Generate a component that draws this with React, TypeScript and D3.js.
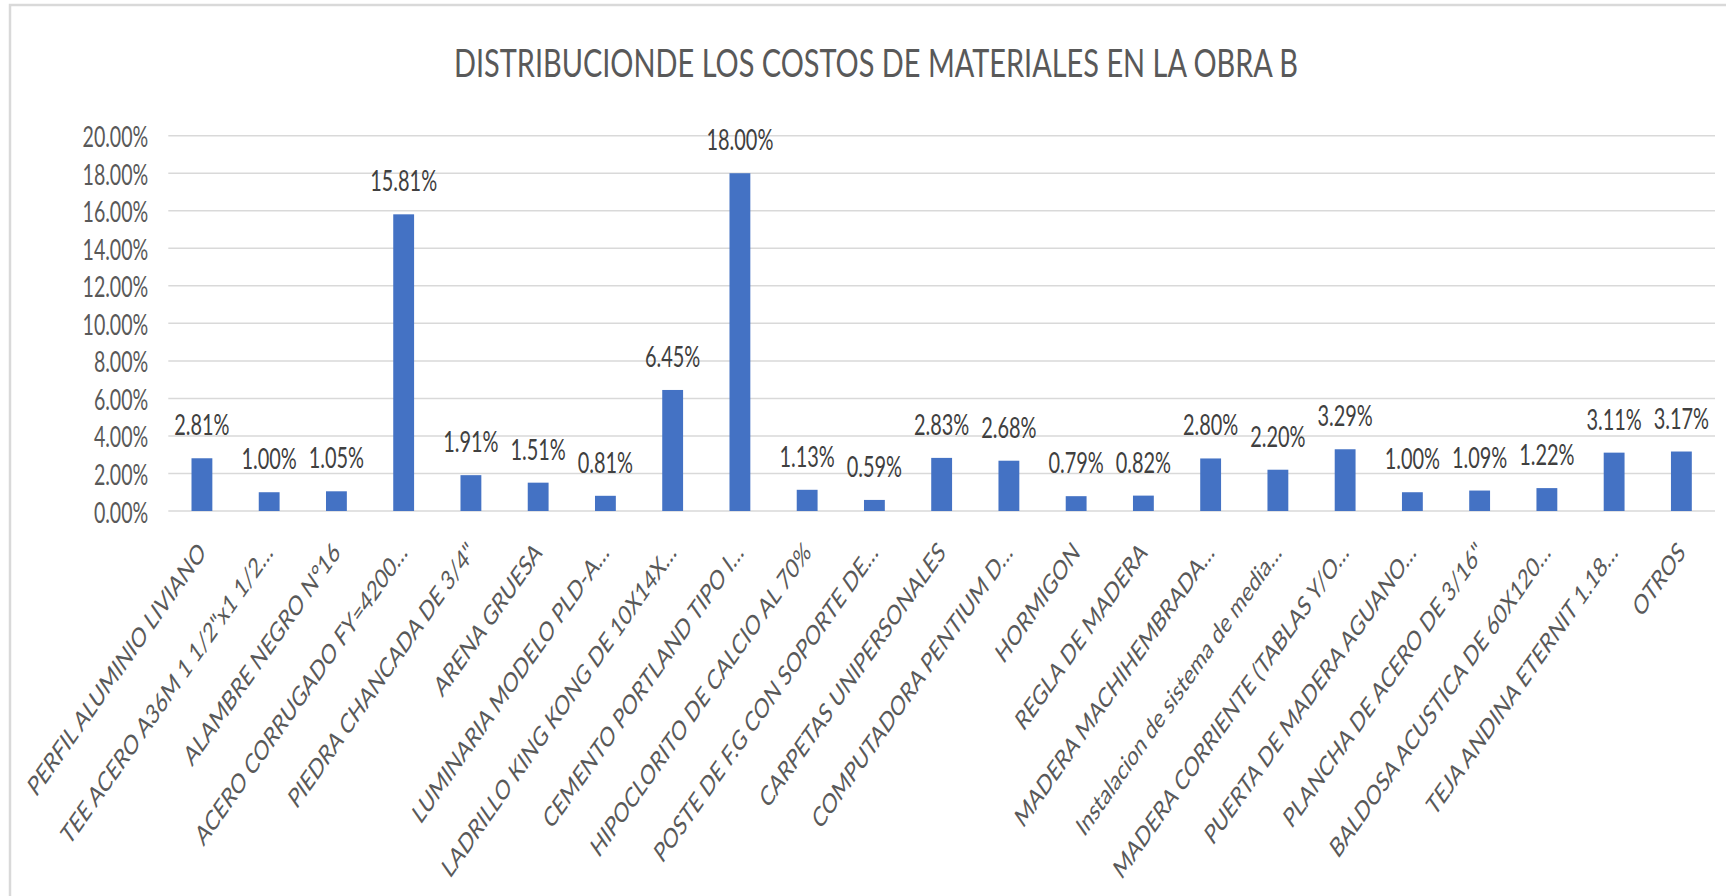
import React from 'react';
import * as d3 from 'd3';

// Material names, as they appear (already truncated) on the category axis
const categories = [
  'PERFIL ALUMINIO LIVIANO',
  'TEE ACERO A36M 1 1/2"x1 1/2…',
  'ALAMBRE NEGRO N°16',
  'ACERO CORRUGADO FY=4200…',
  'PIEDRA CHANCADA DE 3/4"',
  'ARENA GRUESA',
  'LUMINARIA MODELO PLD-A…',
  'LADRILLO KING KONG DE 10X14X…',
  'CEMENTO PORTLAND TIPO I…',
  'HIPOCLORITO DE CALCIO AL 70%',
  'POSTE DE F.G CON SOPORTE DE…',
  'CARPETAS UNIPERSONALES',
  'COMPUTADORA PENTIUM D…',
  'HORMIGON',
  'REGLA DE MADERA',
  'MADERA MACHIHEMBRADA…',
  'Instalacion de sistema de media…',
  'MADERA CORRIENTE (TABLAS Y/O…',
  'PUERTA DE MADERA AGUANO…',
  'PLANCHA DE ACERO DE 3/16"',
  'BALDOSA ACUSTICA DE 60X120…',
  'TEJA ANDINA ETERNIT 1.18…',
  'OTROS',
];

// share of total material cost, in percent
const shares = [
  2.81, 1.0, 1.05, 15.81, 1.91, 1.51, 0.81, 6.45, 18.0, 1.13, 0.59, 2.83,
  2.68, 0.79, 0.82, 2.8, 2.2, 3.29, 1.0, 1.09, 1.22, 3.11, 3.17,
];

const yTicks = [0, 2, 4, 6, 8, 10, 12, 14, 16, 18, 20];

const title = 'DISTRIBUCIONDE LOS COSTOS DE MATERIALES EN LA OBRA B';

const width = 1726;
const height = 896;
const FONT = "Lato, 'Open Sans', sans-serif";
const SQUEEZE = 0.7; // the original picture is squeezed horizontally

export default function App() {
  const x = d3
    .scaleBand<string>()
    .domain(categories)
    .range([168.3, 1715])
    .paddingInner(0.69)
    .paddingOuter(0.345);

  const y = d3.scaleLinear().domain([0, 20]).range([511, 135.7]);
  const fmt = (v: number) => v.toFixed(2) + '%';

  return (
    <svg
      width={width}
      height={height}
      style={{ position: 'absolute', left: 0, top: 0, background: '#fff' }}
      fontFamily={FONT}
    >
      {/* chart frame, cut by the screenshot on right and bottom */}
      <rect x={10} y={5} width={1740} height={920} fill="#fff" stroke="#d9d9d9" strokeWidth={2.5} />

      <text
        x={876}
        y={77}
        textAnchor="middle"
        fontSize={39}
        fill="#595959"
        textLength={844}
        lengthAdjust="spacingAndGlyphs"
      >
        {title}
      </text>

      {/* gridlines + y labels */}
      {yTicks.map((t) => (
        <g key={t}>
          <line
            x1={168.3}
            x2={1715}
            y1={y(t)}
            y2={y(t)}
            stroke="#d9d9d9"
            strokeWidth={1.5}
          />
          <text
            transform={`translate(148.3,${y(t) + 11.5}) scale(${SQUEEZE},1)`}
            textAnchor="end"
            fontSize={28}
            fill="#595959"
          >
            {fmt(t)}
          </text>
        </g>
      ))}

      {/* bars */}
      {categories.map((c, i) => (
        <rect
          key={c}
          x={x(c)}
          y={y(shares[i])}
          width={x.bandwidth()}
          height={y(0) - y(shares[i])}
          fill="#4472C4"
        />
      ))}

      {/* value labels */}
      {categories.map((c, i) => (
        <text
          key={c}
          transform={`translate(${(x(c) ?? 0) + x.bandwidth() / 2},${y(shares[i]) - 23}) scale(${SQUEEZE},1)`}
          textAnchor="middle"
          fontSize={28.5}
          fill="#404040"
        >
          {fmt(shares[i])}
        </text>
      ))}

      {/* rotated category labels */}
      {categories.map((c) => (
        <text
          key={c}
          transform={`translate(${(x(c) ?? 0) + x.bandwidth() / 2},547) scale(${SQUEEZE},1) rotate(-45)`}
          textAnchor="end"
          dy="0.36em"
          fontSize={27.5}
          fill="#595959"
        >
          {c}
        </text>
      ))}
    </svg>
  );
}
